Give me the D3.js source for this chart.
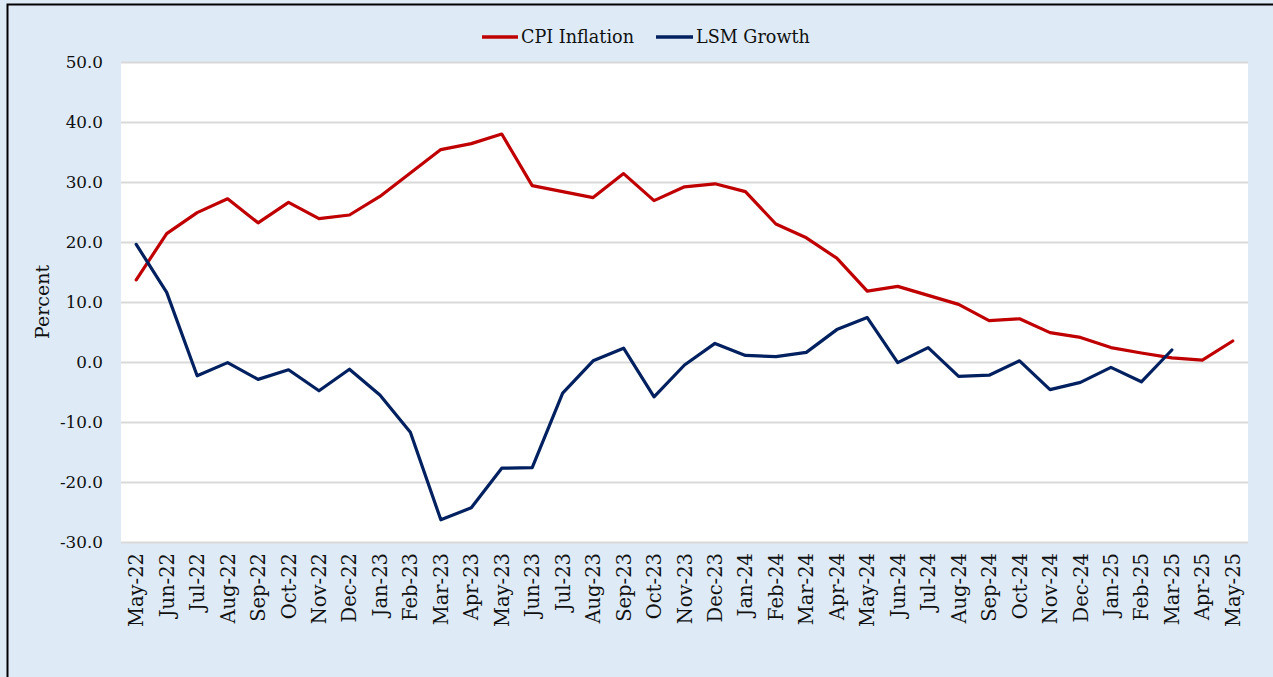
<!DOCTYPE html>
<html>
<head>
<meta charset="utf-8">
<script src="https://cdn.jsdelivr.net/npm/d3@7"></script>
<style>
  html, body { margin: 0; padding: 0; background: #deebf7; }
  svg { display: block; }
  text { font-family: "DejaVu Serif", "Liberation Serif", serif; fill: #111; }
</style>
</head>
<body>
<svg id="chart" width="1273" height="677"></svg>
<script>
const months = ["May-22","Jun-22","Jul-22","Aug-22","Sep-22","Oct-22","Nov-22","Dec-22",
  "Jan-23","Feb-23","Mar-23","Apr-23","May-23","Jun-23","Jul-23","Aug-23","Sep-23","Oct-23","Nov-23","Dec-23",
  "Jan-24","Feb-24","Mar-24","Apr-24","May-24","Jun-24","Jul-24","Aug-24","Sep-24","Oct-24","Nov-24","Dec-24",
  "Jan-25","Feb-25","Mar-25","Apr-25","May-25"];

const cpiInflation = [13.7, 21.4, 24.9, 27.2, 23.2, 26.6, 23.9, 24.5,
  27.6, 31.5, 35.4, 36.4, 38.0, 29.4, 28.4, 27.4, 31.4, 26.9, 29.2, 29.7,
  28.4, 23.0, 20.7, 17.3, 11.8, 12.6, 11.1, 9.6, 6.9, 7.2, 4.9, 4.1,
  2.4, 1.5, 0.7, 0.3, 3.5];

const lsmGrowth = [19.6, 11.6, -2.3, -0.1, -2.9, -1.3, -4.8, -1.2,
  -5.5, -11.7, -26.3, -24.3, -17.7, -17.6, -5.2, 0.2, 2.3, -5.8, -0.5, 3.1,
  1.1, 0.9, 1.6, 5.4, 7.4, -0.1, 2.4, -2.4, -2.2, 0.2, -4.6, -3.4,
  -0.9, -3.3, 2.0, null, null];

const yTicks = [-30, -20, -10, 0, 10, 20, 30, 40, 50];
const yTickLabels = ["-30.0", "-20.0", "-10.0", "0.0", "10.0", "20.0", "30.0", "40.0", "50.0"];

const seriesNames = ["CPI Inflation", "LSM Growth"];
const seriesColors = ["#c00000", "#002060"];

const svg = d3.select("#chart");
const W = 1273, H = 677;
const plot = { left: 121, right: 1248, top: 62, bottom: 542 };

// background & frame
svg.append("rect").attr("x", 0).attr("y", 0).attr("width", W).attr("height", H).attr("fill", "#deebf7");
svg.append("rect").attr("x", 7.5).attr("y", 4.5).attr("width", W + 20).attr("height", H + 20)
  .attr("fill", "none").attr("stroke", "#000").attr("stroke-width", 2);

const x = d3.scaleBand().domain(months).range([plot.left, plot.right]).paddingInner(0).paddingOuter(0);
const xc = m => x(m) + x.bandwidth() / 2;
const y = d3.scaleLinear().domain([-30, 50]).range([plot.bottom, plot.top]);

// plot area
svg.append("rect").attr("x", plot.left).attr("y", plot.top)
  .attr("width", plot.right - plot.left).attr("height", plot.bottom - plot.top).attr("fill", "#ffffff");

// gridlines + y tick labels
const yAxis = d3.axisLeft(y).tickValues(yTicks)
  .tickSize(-(plot.right - plot.left))
  .tickFormat((d, i) => yTickLabels[i]);
const gy = svg.append("g").attr("transform", `translate(${plot.left},0)`).call(yAxis);
gy.select(".domain").remove();
gy.selectAll(".tick line").attr("stroke", "#d9d9d9").attr("stroke-width", 2);
gy.selectAll(".tick text").attr("font-size", "16.8px").attr("fill", "#111")
  .attr("font-family", "DejaVu Serif, Liberation Serif, serif").attr("x", -18);

// x axis labels
const xAxis = d3.axisBottom(x).tickSize(0).tickPadding(0);
const gx = svg.append("g").attr("transform", `translate(0,${plot.bottom})`).call(xAxis);
gx.select(".domain").remove();
gx.selectAll(".tick text")
  .attr("font-size", "19.5px").attr("fill", "#111")
  .attr("font-family", "DejaVu Serif, Liberation Serif, serif")
  .attr("text-anchor", "end")
  .attr("transform", "translate(0,11) rotate(-90)")
  .attr("x", 0).attr("y", 0).attr("dy", "0.36em");

// y axis title
svg.append("text").attr("transform", `translate(42,${302}) rotate(-90)`)
  .attr("text-anchor", "middle").attr("dy", "0.36em").attr("font-size", "19px").text("Percent");

// lines
const line = d3.line().defined(d => d.v != null).x(d => xc(d.m)).y(d => y(d.v));
[cpiInflation, lsmGrowth].forEach((arr, i) => {
  svg.append("path")
    .datum(months.map((m, j) => ({ m, v: arr[j] })))
    .attr("fill", "none").attr("stroke", seriesColors[i]).attr("stroke-width", 3.2)
    .attr("stroke-linejoin", "round").attr("stroke-linecap", "round")
    .attr("d", line);
});

// legend
const legendItems = [
  { name: seriesNames[0], color: seriesColors[0], x0: 482, x1: 518, tx: 521 },
  { name: seriesNames[1], color: seriesColors[1], x0: 656, x1: 693, tx: 696 }
];
const lg = svg.append("g");
legendItems.forEach(it => {
  lg.append("line").attr("x1", it.x0).attr("x2", it.x1).attr("y1", 37).attr("y2", 37)
    .attr("stroke", it.color).attr("stroke-width", 3.5);
  lg.append("text").attr("x", it.tx).attr("y", 37).attr("dy", "0.36em")
    .attr("font-size", "17.6px").text(it.name);
});
</script>
</body>
</html>
